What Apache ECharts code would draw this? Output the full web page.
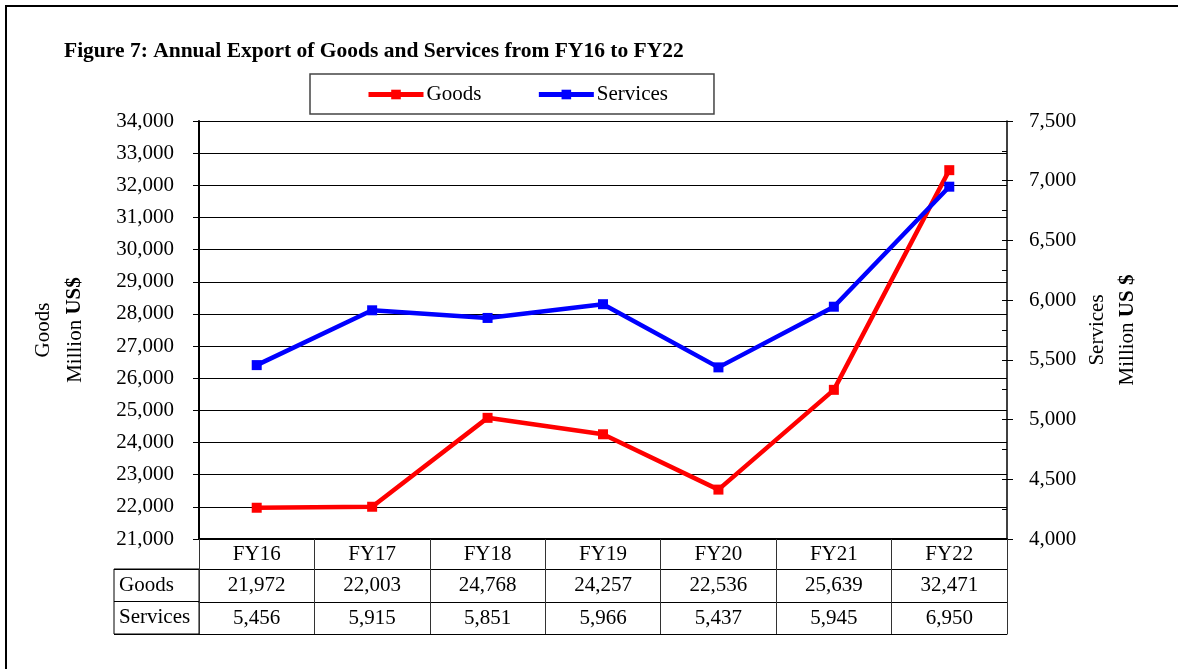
<!DOCTYPE html>
<html>
<head>
<meta charset="utf-8">
<script src="https://cdn.jsdelivr.net/npm/echarts@6/dist/echarts.min.js"></script>
<style>
  html, body { margin: 0; padding: 0; background: #fff; }
  #chart { width: 1178px; height: 669px; }
</style>
</head>
<body>
<div id="chart"></div>
<script>
const categories = ["FY16", "FY17", "FY18", "FY19", "FY20", "FY21", "FY22"];
const goods = [21972, 22003, 24768, 24257, 22536, 25639, 32471];
const services = [5456, 5915, 5851, 5966, 5437, 5945, 6950];
const rowNames = ["Goods", "Services"];

const serif = "Liberation Serif, Times New Roman, serif";
const fmt = (v) => Number(v).toLocaleString("en-US");

const chart = echarts.init(document.getElementById("chart"));

// one hidden-line axis per table row, so the row text sits under each year
function tableRow(data, offset, showLine) {
  return {
    type: "category",
    gridIndex: 0,
    position: "bottom",
    offset: offset,
    data: data,
    axisLine: { show: showLine, lineStyle: { color: "#000", width: 1 } },
    axisTick: { show: false },
    axisLabel: {
      show: data.length > 0,
      interval: 0,
      margin: 6,
      fontFamily: serif,
      fontSize: 21,
      color: "#000",
    },
  };
}

const option = {
  backgroundColor: "#fff",
  animation: false,
  title: {
    text: "Figure 7: Annual Export of Goods and Services from FY16 to FY22",
    left: 64,
    top: 40,
    padding: 0,
    textStyle: { fontFamily: serif, fontSize: 21.5, fontWeight: "bold", color: "#000" },
  },
  legend: {
    left: 310,
    top: 74,
    padding: [10, 46, 9, 56],
    itemGap: 55,
    itemWidth: 55,
    itemHeight: 12,
    borderColor: "#444",
    borderWidth: 1.5,
    lineStyle: { width: 5 },
    textStyle: { fontFamily: serif, fontSize: 21, color: "#000", padding: [0, 0, 0, -2] },
    data: ["Goods", "Services"],
  },
  graphic: [
    {
      type: "rect",
      shape: { x: 6, y: 6, width: 1400, height: 900 },
      style: { fill: "none", stroke: "#000", lineWidth: 2 },
      silent: true,
    },
  ],
  grid: [
    { left: 199, top: 121, width: 808, height: 418 },
    {
      left: 114, top: 569, width: 85, height: 65,
      show: true, borderColor: "#000", borderWidth: 1, backgroundColor: "transparent",
    },
  ],
  xAxis: [
    {
      type: "category",
      gridIndex: 0,
      data: categories,
      boundaryGap: true,
      axisLine: { lineStyle: { color: "#000", width: 2 } },
      axisTick: { show: true, interval: 0, length: 95, lineStyle: { color: "#333", width: 1 } },
      axisLabel: { interval: 0, margin: 5, fontFamily: serif, fontSize: 21, color: "#000" },
    },
    tableRow(goods.map(fmt), 30, true),
    tableRow(services.map(fmt), 63, true),
    tableRow([], 95, true),
    { type: "value", gridIndex: 1, show: false },
  ],
  yAxis: [
    {
      type: "value",
      gridIndex: 0,
      position: "left",
      min: 21000,
      max: 34000,
      interval: 1000,
      name: "{a|Goods}\n{a|Million }{b|US$}",
      nameLocation: "middle",
      nameRotate: 90,
      nameGap: 108,
      nameTextStyle: {
        rich: {
          a: { fontFamily: serif, fontSize: 21, color: "#000", lineHeight: 32 },
          b: { fontFamily: serif, fontSize: 21, color: "#000", fontWeight: "bold", lineHeight: 32 },
        },
      },
      axisLine: { show: true, lineStyle: { color: "#000", width: 2 } },
      axisTick: { show: true, length: 6, lineStyle: { color: "#000" } },
      axisLabel: { margin: 25, fontFamily: serif, fontSize: 21, color: "#000", formatter: fmt },
      splitLine: { show: true, lineStyle: { color: "#000", width: 1 } },
    },
    {
      type: "value",
      gridIndex: 0,
      position: "right",
      min: 4000,
      max: 7500,
      interval: 500,
      name: "{a|Services}\n{a|Million }{b|US $}",
      nameLocation: "middle",
      nameRotate: 90,
      nameGap: 72,
      nameTextStyle: {
        rich: {
          a: { fontFamily: serif, fontSize: 21, color: "#000", lineHeight: 30 },
          b: { fontFamily: serif, fontSize: 21, color: "#000", fontWeight: "bold", lineHeight: 30 },
        },
      },
      axisLine: { show: true, lineStyle: { color: "#000", width: 1.5 } },
      axisTick: { show: true, length: 6, lineStyle: { color: "#000" } },
      axisLabel: { margin: 22, fontFamily: serif, fontSize: 21, color: "#000", formatter: fmt },
      splitLine: { show: false },
    },
    {
      // inner minor ticks of the services axis
      type: "value",
      gridIndex: 0,
      position: "right",
      min: 4000,
      max: 7500,
      interval: 250,
      axisLine: { show: false },
      axisTick: { show: true, inside: true, length: 5, lineStyle: { color: "#000" } },
      axisLabel: { show: false },
      splitLine: { show: false },
    },
    {
      type: "category",
      gridIndex: 1,
      data: rowNames,
      inverse: true,
      axisLine: { show: false },
      axisTick: { show: false },
      axisLabel: {
        inside: true,
        margin: 5,
        align: "left",
        fontFamily: serif,
        fontSize: 21,
        color: "#000",
      },
      splitLine: { show: true, lineStyle: { color: "#000", width: 1 } },
    },
  ],
  series: [
    {
      name: "Goods",
      type: "line",
      xAxisIndex: 0,
      yAxisIndex: 0,
      data: goods,
      symbol: "rect",
      symbolSize: 10,
      color: "#FF0000",
      lineStyle: { color: "#FF0000", width: 4.5 },
      itemStyle: { color: "#FF0000" },
    },
    {
      name: "Services",
      type: "line",
      xAxisIndex: 0,
      yAxisIndex: 1,
      data: services,
      symbol: "rect",
      symbolSize: 10,
      color: "#0000FF",
      lineStyle: { color: "#0000FF", width: 4.5 },
      itemStyle: { color: "#0000FF" },
    },
  ],
};

chart.setOption(option);
</script>
</body>
</html>
